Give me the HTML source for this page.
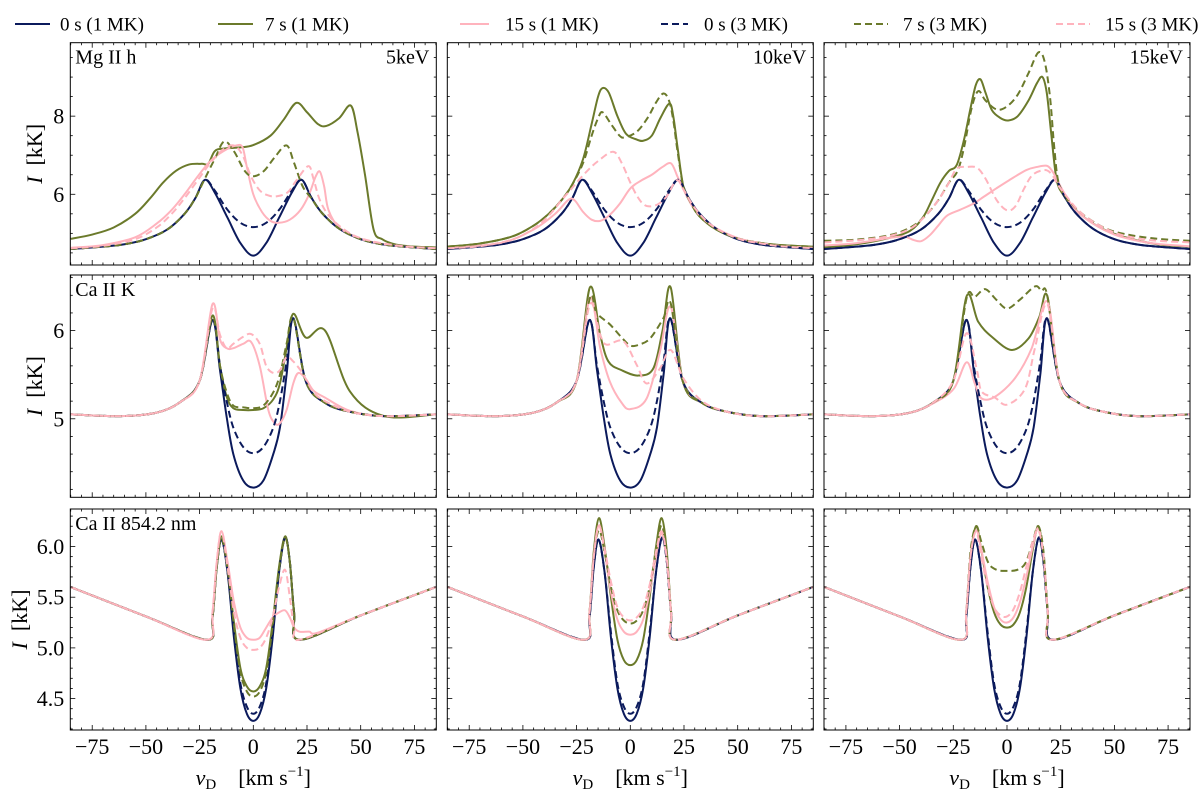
<!DOCTYPE html>
<html><head><meta charset="utf-8">
<style>
html,body{margin:0;padding:0;background:#fff;}
body{width:1200px;height:797px;overflow:hidden;font-family:"Liberation Serif","DejaVu Serif",serif;}
svg text{font-family:"Liberation Serif","DejaVu Serif",serif;fill:#000;}
</style></head>
<body>
<svg id="fig" width="1200" height="797" viewBox="0 0 1200 797" xmlns="http://www.w3.org/2000/svg"></svg>
<script>
// ---------- data (velocity km/s, intensity kK) ----------
const xTicks = [-75,-50,-25,0,25,50,75];
const xTickLabels = ["\u221275","\u221250","\u221225","0","25","50","75"];
const rowLabels = ["Mg II h","Ca II K","Ca II 854.2 nm"];
const colLabels = ["5keV","10keV","15keV"];
const seriesNames = ["0 s (1 MK)","7 s (1 MK)","15 s (1 MK)","0 s (3 MK)","7 s (3 MK)","15 s (3 MK)"];
const row0Ticks = [6,8], row0Labels=["6","8"];
const row1Ticks = [5,6], row1Labels=["5","6"];
const row2Ticks = [4.5,5.0,5.5,6.0], row2Labels=["4.5","5.0","5.5","6.0"];

// Mg II h
const mg_0s1 = [[-85,4.6],[-70,4.66],[-60,4.72],[-50,4.85],[-40,5.1],[-32,5.5],[-27,5.9],[-22.5,6.37],[-18,6.05],[-12,5.4],[-6,4.75],[0,4.43],[6,4.75],[12,5.4],[18,6.05],[22.5,6.37],[27,5.92],[32,5.52],[40,5.12],[50,4.85],[60,4.72],[70,4.66],[85,4.6]];
const mg_0s3 = [[-85,4.6],[-70,4.66],[-60,4.72],[-50,4.85],[-40,5.1],[-32,5.5],[-27,5.9],[-22.5,6.37],[-18,6.1],[-12,5.6],[-6,5.27],[0,5.16],[6,5.27],[12,5.6],[18,6.1],[22.5,6.37],[27,5.92],[32,5.52],[40,5.12],[50,4.85],[60,4.72],[70,4.66],[85,4.6]];
const mg5_7s1 = [[-85,4.86],[-75,4.97],[-65,5.15],[-55,5.5],[-48,5.9],[-42,6.3],[-36,6.6],[-30,6.76],[-24,6.78],[-21,6.78],[-18,7.1],[-14,7.17],[-6,7.2],[0,7.26],[8,7.5],[14,7.9],[20,8.34],[25,8.1],[30,7.8],[34,7.75],[40,7.95],[45.4,8.27],[48.5,7.6],[52,6.5],[56,5.1],[60,4.85],[66,4.72],[75,4.66],[85,4.64]];
const mg5_15s1 = [[-85,4.63],[-70,4.7],[-55,4.9],[-45,5.25],[-38,5.6],[-32,6.0],[-26,6.45],[-20,6.85],[-14,7.1],[-8,7.25],[-5,7.2],[-3,6.7],[0,6.0],[4,5.55],[8,5.32],[12,5.27],[17,5.35],[22,5.6],[26,6.0],[29,6.45],[31,6.58],[33,6.2],[35,5.6],[40,5.15],[50,4.86],[60,4.73],[70,4.66],[85,4.61]];
const mg5_7s3 = [[-85,4.6],[-70,4.66],[-60,4.72],[-50,4.85],[-40,5.1],[-32,5.5],[-27,5.9],[-23,6.35],[-18,6.9],[-13.6,7.35],[-9,7.1],[-4,6.6],[0,6.46],[5,6.6],[10,6.95],[15.5,7.25],[19,6.8],[23,6.2],[27,5.9],[32,5.52],[40,5.12],[50,4.85],[60,4.72],[70,4.66],[85,4.6]];
const mg5_15s3 = [[-85,4.62],[-70,4.68],[-55,4.85],[-45,5.15],[-38,5.5],[-32,5.9],[-26,6.35],[-20,6.8],[-14,7.15],[-9,7.25],[-5,7.0],[-1,6.45],[3,6.1],[7,5.97],[11,5.95],[16,6.05],[20,6.35],[25.6,6.72],[28,6.4],[31,5.85],[36,5.4],[45,5.0],[55,4.8],[70,4.67],[85,4.62]];
const mg10_7s1 = [[-85,4.66],[-70,4.74],[-55,4.92],[-45,5.2],[-38,5.5],[-32,5.85],[-27,6.25],[-22,6.9],[-18,7.8],[-15,8.5],[-12.9,8.72],[-10,8.6],[-6,8.0],[-2,7.55],[3,7.4],[6,7.37],[10,7.5],[14,7.95],[18.2,8.32],[20,8.0],[22,7.2],[24.7,6.2],[28,5.8],[32,5.45],[40,5.1],[50,4.87],[60,4.76],[70,4.7],[85,4.66]];
const mg10_15s1 = [[-85,4.62],[-60,4.76],[-45,5.1],[-35,5.5],[-29,5.85],[-26,5.85],[-22,5.55],[-18,5.35],[-14,5.32],[-10,5.45],[-5,5.75],[0,6.15],[5,6.35],[10,6.5],[15,6.7],[19,6.79],[22,6.45],[25,6.1],[30,5.6],[38,5.2],[50,4.88],[60,4.76],[70,4.68],[85,4.63]];
const mg10_7s3 = [[-85,4.66],[-70,4.74],[-55,4.92],[-45,5.2],[-38,5.5],[-32,5.85],[-27,6.25],[-22,6.8],[-18,7.5],[-15,7.95],[-12.9,8.1],[-9,7.8],[-5,7.5],[-2.5,7.46],[3,7.6],[8,7.95],[12,8.35],[15.4,8.58],[18,8.4],[20,7.9],[22,7.1],[24.7,6.2],[28,5.8],[32,5.45],[40,5.1],[50,4.87],[60,4.76],[70,4.7],[85,4.66]];
const mg10_15s3 = [[-85,4.62],[-70,4.67],[-55,4.84],[-45,5.12],[-38,5.45],[-32,5.85],[-28,6.1],[-25,6.3],[-20,6.6],[-15,6.85],[-8,7.09],[-4,6.8],[0,6.3],[3,5.97],[6,5.75],[9,5.69],[13,5.75],[17,5.95],[21.6,6.36],[25,6.1],[30,5.65],[38,5.2],[50,4.87],[60,4.75],[70,4.67],[85,4.62]];
const mg15_7s1 = [[-85,4.64],[-70,4.72],[-55,4.88],[-45,5.07],[-39,5.42],[-35,5.85],[-31,6.3],[-27,6.6],[-23.4,6.75],[-20,7.4],[-17,8.2],[-14.5,8.8],[-12.3,8.94],[-10,8.6],[-7,8.15],[-3,7.95],[0.6,7.89],[5,8.0],[10,8.4],[14,8.85],[16.5,9.0],[18.5,8.6],[20.5,7.6],[23,6.4],[26,6.0],[29,5.8],[35,5.45],[45,5.1],[55,4.9],[70,4.72],[85,4.66]];
const mg15_15s1 = [[-85,4.69],[-70,4.75],[-55,4.88],[-48,4.92],[-44,4.84],[-40,4.8],[-36,4.95],[-32,5.2],[-28,5.45],[-22,5.6],[-16,5.75],[-11,5.93],[-5,6.15],[1,6.36],[9,6.62],[14,6.7],[18.5,6.73],[21,6.6],[23,6.4],[27,6.0],[32,5.6],[40,5.25],[50,4.97],[60,4.82],[70,4.73],[85,4.67]];
const mg15_7s3 = [[-85,4.81],[-70,4.84],[-55,4.95],[-45,5.15],[-38,5.45],[-32,5.85],[-27,6.3],[-23,6.6],[-20,7.2],[-16.5,8.2],[-13.4,8.64],[-10,8.4],[-4.8,8.17],[0,8.25],[5,8.55],[10,9.1],[14.6,9.63],[17.5,9.4],[20,8.5],[22,7.2],[24,6.3],[28,5.9],[35,5.5],[45,5.15],[55,4.98],[70,4.86],[85,4.81]];
const mg15_15s3 = [[-85,4.77],[-70,4.82],[-55,4.93],[-45,5.12],[-38,5.45],[-32,5.85],[-27,6.3],[-23.4,6.66],[-18.8,6.7],[-14,6.68],[-10,6.4],[-4.8,5.85],[0,5.59],[4,5.7],[8,6.15],[12,6.5],[17.7,6.62],[21,6.5],[23,6.3],[27,6.0],[33,5.6],[40,5.3],[50,5.02],[60,4.88],[70,4.81],[85,4.77]];

// Ca II K
const ck_0s1 = [[-85,5.05],[-62,5.03],[-45,5.07],[-34,5.19],[-25,5.43],[-19,6.12],[-15.5,5.55],[-12.4,5.02],[-9.3,4.6],[-4.7,4.3],[0,4.22],[4.7,4.3],[9.3,4.6],[12.4,4.9],[15.5,5.5],[18.6,6.14],[24.5,5.42],[33.4,5.18],[45,5.08],[61,5.03],[85,5.05]];
const ck_0s3 = [[-85,5.05],[-62,5.03],[-45,5.07],[-34,5.19],[-25,5.43],[-19,6.12],[-15.5,5.6],[-12.4,5.2],[-9.3,4.9],[-4.7,4.68],[0,4.61],[4.7,4.68],[9.3,4.9],[12.4,5.2],[15.5,5.65],[18.6,6.14],[24.5,5.42],[33.4,5.18],[45,5.08],[61,5.03],[85,5.05]];
const ck5_7s1 = [[-85,5.05],[-62,5.03],[-45,5.07],[-34,5.19],[-25,5.43],[-19,6.17],[-15.5,5.6],[-12.4,5.25],[-9.3,5.12],[-4.7,5.1],[0,5.1],[4.7,5.12],[9.3,5.22],[12.4,5.4],[15.5,5.8],[18.6,6.19],[24.5,5.92],[33.4,6.0],[45,5.31],[61,5.03],[85,5.05]];
const ck5_15s1 = [[-85,5.05],[-62,5.03],[-45,5.07],[-34,5.19],[-25,5.43],[-19,6.3],[-15.5,5.9],[-12.4,5.8],[-9.3,5.8],[-4.7,5.85],[-1,5.87],[3,5.6],[7,5.1],[10,4.95],[12.4,4.95],[15.5,5.1],[18.6,5.4],[21,5.52],[24.5,5.45],[28,5.32],[33.4,5.24],[45,5.09],[61,5.03],[85,5.05]];
const ck5_7s3 = [[-85,5.05],[-62,5.03],[-45,5.07],[-34,5.19],[-25,5.43],[-19,6.15],[-15.5,5.6],[-12.4,5.3],[-9.3,5.15],[-4.7,5.13],[0,5.12],[4.7,5.15],[9.3,5.3],[12.4,5.5],[15.5,5.85],[18.6,6.15],[24.5,5.42],[33.4,5.18],[45,5.08],[61,5.03],[85,5.05]];
const ck5_15s3 = [[-85,5.05],[-62,5.03],[-45,5.07],[-34,5.19],[-25,5.43],[-19,6.25],[-15.5,5.95],[-12.4,5.8],[-9.3,5.85],[-4.7,5.93],[-1,5.96],[3,5.85],[6,5.6],[9.3,5.52],[12.4,5.55],[15.5,5.7],[18.6,5.65],[22,5.55],[24.5,5.45],[28,5.3],[33.4,5.2],[45,5.08],[61,5.03],[85,5.05]];
const ck10_7s1 = [[-85,5.05],[-62,5.03],[-45,5.07],[-34,5.19],[-25,5.43],[-18.8,6.49],[-14,5.95],[-10.2,5.65],[-4,5.55],[3.7,5.49],[10.7,5.57],[15,6.0],[18.8,6.49],[24.5,5.42],[33.4,5.18],[45,5.08],[61,5.03],[85,5.05]];
const ck10_15s1 = [[-85,5.05],[-62,5.03],[-45,5.07],[-34,5.19],[-25,5.43],[-18.8,6.37],[-14,5.8],[-9.5,5.42],[-4,5.18],[0,5.11],[7.6,5.23],[13.8,5.76],[18.8,6.27],[24.5,5.42],[33.4,5.18],[45,5.08],[61,5.03],[85,5.05]];
const ck10_7s3 = [[-85,5.05],[-62,5.03],[-45,5.07],[-34,5.19],[-25,5.43],[-18.8,6.37],[-15.7,6.2],[-9.5,6.07],[-4,5.92],[0,5.83],[4,5.84],[9.2,5.91],[15.4,6.14],[18.8,6.31],[24.5,5.42],[33.4,5.18],[45,5.08],[61,5.03],[85,5.05]];
const ck10_15s3 = [[-85,5.05],[-62,5.03],[-45,5.07],[-34,5.19],[-25,5.43],[-18.8,6.3],[-14,5.95],[-11,5.84],[-3.3,5.88],[3,5.61],[7.6,5.4],[13.8,5.57],[18.8,5.78],[24.7,5.46],[33.4,5.2],[45,5.08],[61,5.03],[85,5.05]];
const ck15_7s1 = [[-85,5.05],[-62,5.03],[-45,5.07],[-34,5.19],[-25,5.43],[-18.8,6.39],[-13.4,6.1],[-7.1,5.93],[2.2,5.78],[10,5.91],[15,6.15],[18.8,6.39],[24.5,5.42],[33.4,5.18],[45,5.08],[61,5.03],[85,5.05]];
const ck15_15s1 = [[-85,5.05],[-62,5.03],[-45,5.07],[-34,5.18],[-24.8,5.34],[-18.8,5.64],[-15,5.4],[-11.8,5.23],[-5.6,5.25],[3.7,5.46],[11.5,5.8],[18.8,6.33],[24.5,5.42],[33.4,5.18],[45,5.08],[61,5.03],[85,5.05]];
const ck15_7s3 = [[-85,5.05],[-62,5.03],[-45,5.07],[-34,5.19],[-25,5.43],[-18.8,6.37],[-15,6.38],[-10.2,6.47],[-5,6.35],[0,6.25],[6,6.35],[13,6.5],[16,6.45],[18.8,6.39],[24.5,5.42],[33.4,5.18],[45,5.08],[61,5.03],[85,5.05]];
const ck15_15s3 = [[-85,5.05],[-62,5.03],[-45,5.07],[-34,5.19],[-25,5.43],[-18.8,5.97],[-14,5.55],[-11.8,5.31],[-5.6,5.24],[0,5.16],[8.4,5.34],[13,5.8],[18.8,6.3],[24.5,5.42],[33.4,5.18],[45,5.08],[61,5.03],[85,5.05]];

// Ca II 854.2 nm
const ca_0s1 = [[-85,5.6],[-50,5.31],[-21.5,5.08],[-19,5.3],[-17,5.8],[-14.8,6.07],[-12,5.75],[-9,5.1],[-6,4.6],[-3,4.35],[0,4.28],[3,4.35],[6,4.6],[9,5.1],[12,5.75],[14.8,6.09],[17,5.85],[19,5.35],[21.5,5.08],[50,5.32],[85,5.6]];
const ca_0s3 = [[-85,5.6],[-50,5.31],[-21.5,5.08],[-19,5.3],[-17,5.8],[-14.8,6.07],[-12,5.75],[-9,5.15],[-6,4.65],[-3,4.42],[0,4.35],[3,4.42],[6,4.65],[9,5.15],[12,5.75],[14.8,6.09],[17,5.85],[19,5.35],[21.5,5.08],[50,5.32],[85,5.6]];
const ca5_7s1 = [[-85,5.6],[-50,5.31],[-21.5,5.08],[-19,5.3],[-17,5.8],[-14.8,6.1],[-12,5.8],[-9,5.25],[-6,4.8],[-3,4.62],[0,4.57],[3,4.62],[6,4.8],[9,5.25],[12,5.8],[14.8,6.1],[17,5.85],[19,5.35],[21.5,5.08],[50,5.32],[85,5.6]];
const ca5_15s1 = [[-85,5.6],[-50,5.31],[-21.5,5.08],[-19,5.35],[-17,5.85],[-14.8,6.15],[-12,5.85],[-9,5.45],[-6,5.2],[-3,5.1],[0,5.08],[3,5.1],[6,5.2],[9,5.3],[12,5.35],[14.8,5.37],[17,5.3],[19,5.2],[21.5,5.16],[26,5.16],[30,5.15],[50,5.32],[85,5.6]];
const ca5_7s3 = [[-85,5.6],[-50,5.31],[-21.5,5.08],[-19,5.3],[-17,5.8],[-14.8,6.08],[-12,5.78],[-9,5.22],[-6,4.76],[-3,4.57],[0,4.52],[3,4.57],[6,4.76],[9,5.22],[12,5.78],[14.8,6.08],[17,5.85],[19,5.35],[21.5,5.08],[50,5.32],[85,5.6]];
const ca5_15s3 = [[-85,5.6],[-50,5.31],[-21.5,5.08],[-19,5.35],[-17,5.85],[-14.8,6.15],[-12,5.8],[-9,5.35],[-6,5.1],[-3,5.0],[0,4.98],[3,5.0],[6,5.1],[9,5.3],[12,5.6],[14.8,5.77],[17,5.5],[19,5.2],[21.5,5.08],[50,5.32],[85,5.6]];
const ca10_7s1 = [[-85,5.6],[-50,5.31],[-21.5,5.08],[-19,5.35],[-17,5.95],[-14.6,6.28],[-12,6.0],[-9,5.5],[-6,5.08],[-3,4.88],[0,4.83],[3,4.88],[6,5.08],[9,5.5],[12,6.0],[14.6,6.28],[17,5.95],[19,5.35],[21,5.08],[50,5.32],[85,5.6]];
const ca10_15s1 = [[-85,5.6],[-50,5.31],[-21.5,5.08],[-19,5.35],[-17,5.9],[-14.6,6.21],[-12,5.95],[-9,5.55],[-6,5.28],[-3,5.16],[0,5.13],[3,5.16],[6,5.28],[9,5.55],[12,5.9],[14.6,6.13],[17,5.85],[19,5.35],[21,5.08],[50,5.32],[85,5.6]];
const ca10_7s3 = [[-85,5.6],[-50,5.31],[-21.5,5.08],[-19,5.35],[-17,5.9],[-14.6,6.16],[-12,5.95],[-9,5.6],[-6,5.37],[-3,5.27],[0,5.24],[3,5.27],[6,5.37],[9,5.6],[12,5.95],[14.6,6.21],[17,5.9],[19,5.35],[21,5.08],[50,5.32],[85,5.6]];
const ca10_15s3 = [[-85,5.6],[-50,5.31],[-21.5,5.08],[-19,5.35],[-17,5.9],[-14.6,6.2],[-12,5.98],[-9,5.65],[-6,5.4],[-3,5.3],[0,5.27],[3,5.3],[6,5.4],[9,5.62],[12,5.95],[14.6,6.15],[17,5.88],[19,5.35],[21,5.08],[50,5.32],[85,5.6]];
const ca15_7s1 = [[-85,5.6],[-50,5.31],[-21.5,5.08],[-19,5.35],[-17,5.9],[-14.4,6.2],[-12,5.97],[-9,5.6],[-6,5.35],[-3,5.23],[0,5.2],[3,5.23],[6,5.35],[9,5.6],[12,5.97],[14.6,6.2],[17,5.9],[19,5.35],[21,5.08],[50,5.32],[85,5.6]];
const ca15_15s1 = [[-85,5.6],[-50,5.31],[-21.5,5.08],[-19,5.35],[-17,5.9],[-14.4,6.16],[-12,5.97],[-9,5.65],[-6,5.4],[-3,5.28],[0,5.25],[3,5.3],[6,5.45],[9,5.7],[12,6.0],[14.6,6.18],[17,5.9],[19,5.35],[21,5.08],[50,5.32],[85,5.6]];
const ca15_7s3 = [[-85,5.6],[-50,5.31],[-21.5,5.08],[-19,5.35],[-17,5.95],[-14.4,6.2],[-12,6.05],[-8.7,5.84],[-4.8,5.77],[0,5.76],[4.8,5.77],[8.7,5.84],[12,6.05],[14.6,6.2],[17,5.95],[19,5.35],[21,5.08],[50,5.32],[85,5.6]];
const ca15_15s3 = [[-85,5.6],[-50,5.31],[-21.5,5.08],[-19,5.35],[-17,5.9],[-14.4,6.15],[-12,5.9],[-9,5.6],[-6,5.4],[-3,5.32],[0,5.31],[3,5.38],[6,5.55],[9,5.8],[12,6.05],[14.6,6.16],[17,5.9],[19,5.35],[21,5.08],[50,5.32],[85,5.6]];

const panelSeries = [
  [[mg_0s1,mg5_7s1,mg5_15s1,mg_0s3,mg5_7s3,mg5_15s3],[mg_0s1,mg10_7s1,mg10_15s1,mg_0s3,mg10_7s3,mg10_15s3],[mg_0s1,mg15_7s1,mg15_15s1,mg_0s3,mg15_7s3,mg15_15s3]],
  [[ck_0s1,ck5_7s1,ck5_15s1,ck_0s3,ck5_7s3,ck5_15s3],[ck_0s1,ck10_7s1,ck10_15s1,ck_0s3,ck10_7s3,ck10_15s3],[ck_0s1,ck15_7s1,ck15_15s1,ck_0s3,ck15_7s3,ck15_15s3]],
  [[ca_0s1,ca5_7s1,ca5_15s1,ca_0s3,ca5_7s3,ca5_15s3],[ca_0s1,ca10_7s1,ca10_15s1,ca_0s3,ca10_7s3,ca10_15s3],[ca_0s1,ca15_7s1,ca15_15s1,ca_0s3,ca15_7s3,ca15_15s3]]
];

// ---------- layout ----------
const NS="http://www.w3.org/2000/svg";
const svg=document.getElementById('fig');
const colLeft=[70.3,447.3,824], W=366;
const rowTop=[42.7,275,509], rowBot=[265,497.3,730];
const yDom=[[4.19,9.88],[4.11,6.63],[4.19,6.37]];
const xDom=[-85.2,85.2];
const yMinorStep=[0.5,0.2,0.1];
const yMajors=[row0Ticks,row1Ticks,row2Ticks];
const yMajLabels=[row0Labels,row1Labels,row2Labels];
const ylabelX=[42,42,27];
const colors=["#0b1a5c","#6b7a2b","#ffb3bd","#0b1a5c","#6b7a2b","#ffb3bd"];
const dashes=[null,null,null,"7,4","7,4","7,4"];

function el(tag,attrs,parent){const e=document.createElementNS(NS,tag);for(const k in attrs)e.setAttribute(k,attrs[k]);(parent||svg).appendChild(e);return e;}
function xScale(c){return v=>colLeft[c]+(v-xDom[0])/(xDom[1]-xDom[0])*W;}
function yScale(r){return I=>rowBot[r]-(I-yDom[r][0])/(yDom[r][1]-yDom[r][0])*(rowBot[r]-rowTop[r]);}

function smoothPath(pts){
  let d="M"+pts[0][0].toFixed(2)+","+pts[0][1].toFixed(2);
  for(let i=0;i<pts.length-1;i++){
    const p0=pts[Math.max(0,i-1)],p1=pts[i],p2=pts[i+1],p3=pts[Math.min(pts.length-1,i+2)];
    const t=1/6;
    const c1x=p1[0]+(p2[0]-p0[0])*t, c1y=p1[1]+(p2[1]-p0[1])*t;
    const c2x=p2[0]-(p3[0]-p1[0])*t, c2y=p2[1]-(p3[1]-p1[1])*t;
    d+=" C"+c1x.toFixed(2)+","+c1y.toFixed(2)+" "+c2x.toFixed(2)+","+c2y.toFixed(2)+" "+p2[0].toFixed(2)+","+p2[1].toFixed(2);
  }
  return d;
}

const defs=el('defs',{});
for(let r=0;r<3;r++){
  for(let c=0;c<3;c++){
    const xs=xScale(c), ys=yScale(r);
    const L=colLeft[c],R=L+W,T=rowTop[r],B=rowBot[r];
    const g=el('g',{});
    
    
    const cp=el('clipPath',{id:'clip'+r+c},defs);
    el('rect',{x:L,y:T,width:W,height:B-T},cp);
    const lines=el('g',{'clip-path':'url(#clip'+r+c+')'},g);
    panelSeries[r][c].forEach((data,k)=>{
      const pts=data.map(p=>[xs(p[0]),ys(p[1])]);
      const a={d:smoothPath(pts),fill:"none",stroke:colors[k],'stroke-width':2,'stroke-linejoin':'round'};
      if(dashes[k])a['stroke-dasharray']=dashes[k];
      const p=el('path',a,lines);
      
      
    });
    const fr=el('rect',{x:L,y:T,width:W,height:B-T,fill:"none",stroke:"#000",'stroke-width':1},g);
    
    
    for(let v=-85;v<=85;v+=5){
      const X=xs(v); const maj=(v%25===0)&&Math.abs(v)<=75;
      const len=maj?5:2.5;
      el('line',{x1:X,x2:X,y1:B,y2:B-len,stroke:"#000",'stroke-width':0.8},g);
      el('line',{x1:X,x2:X,y1:T,y2:T+len,stroke:"#000",'stroke-width':0.8},g);
    }
    const st=yMinorStep[r];
    for(let I=Math.ceil(yDom[r][0]/st)*st;I<=yDom[r][1];I+=st){
      const Y=ys(I);
      const maj=yMajors[r].some(m=>Math.abs(m-I)<1e-6);
      const len=maj?5:2.5;
      el('line',{x1:L,x2:L+len,y1:Y,y2:Y,stroke:"#000",'stroke-width':0.8},g);
      el('line',{x1:R,x2:R-len,y1:Y,y2:Y,stroke:"#000",'stroke-width':0.8},g);
    }
    if(c===0){
      yMajors[r].forEach((m,i)=>{
        const t=el('text',{x:L-6,y:ys(m)+7.5,'text-anchor':'end','font-size':22},g);
        t.textContent=yMajLabels[r][i];
        
        
      });
      const yl=el('text',{transform:'translate('+ylabelX[r]+','+((T+B)/2)+') rotate(-90)','text-anchor':'middle','font-size':22},g);
      yl.innerHTML='<tspan font-style="italic">I</tspan>\u2002[kK]';
      
      
      const rl=el('text',{x:L+5,y:T+21,'font-size':20},g);
      rl.textContent=rowLabels[r];
      
      
    }
    if(r===0){
      const cl=el('text',{x:R-7,y:T+21,'text-anchor':'end','font-size':20},g);
      cl.textContent=colLabels[c];
      
      
    }
    if(r===2){
      xTicks.forEach((v,i)=>{
        const t=el('text',{x:xs(v),y:B+24,'text-anchor':'middle','font-size':22},g);
        t.textContent=xTickLabels[i];
        
        
      });
      const xl=el('text',{x:L+W/2,y:B+55,'text-anchor':'middle','font-size':22},g);
      xl.innerHTML='<tspan font-style="italic">v</tspan><tspan font-size="15" dy="4">D</tspan><tspan dy="-4">\u2003[km s</tspan><tspan font-size="15" dy="-9">\u22121</tspan><tspan dy="9">]</tspan>';
      
      
    }
  }
}

const legPos=[[15,50,60],[218,253,265],[460,489,505],[661,688,704],[854,888,903],[1056,1090,1105]];
const lg=el('g',{});


seriesNames.forEach((n,k)=>{
  const p=legPos[k];
  const ent=el('g',{},lg);
  
  
  const a={x1:p[0],x2:p[1],y1:24,y2:24,stroke:colors[k],'stroke-width':2};
  if(dashes[k])a['stroke-dasharray']=dashes[k];
  el('line',a,ent);
  const t=el('text',{x:p[2],y:30.5,'font-size':19},ent);
  t.textContent=n;
});
</script>
</body></html>
